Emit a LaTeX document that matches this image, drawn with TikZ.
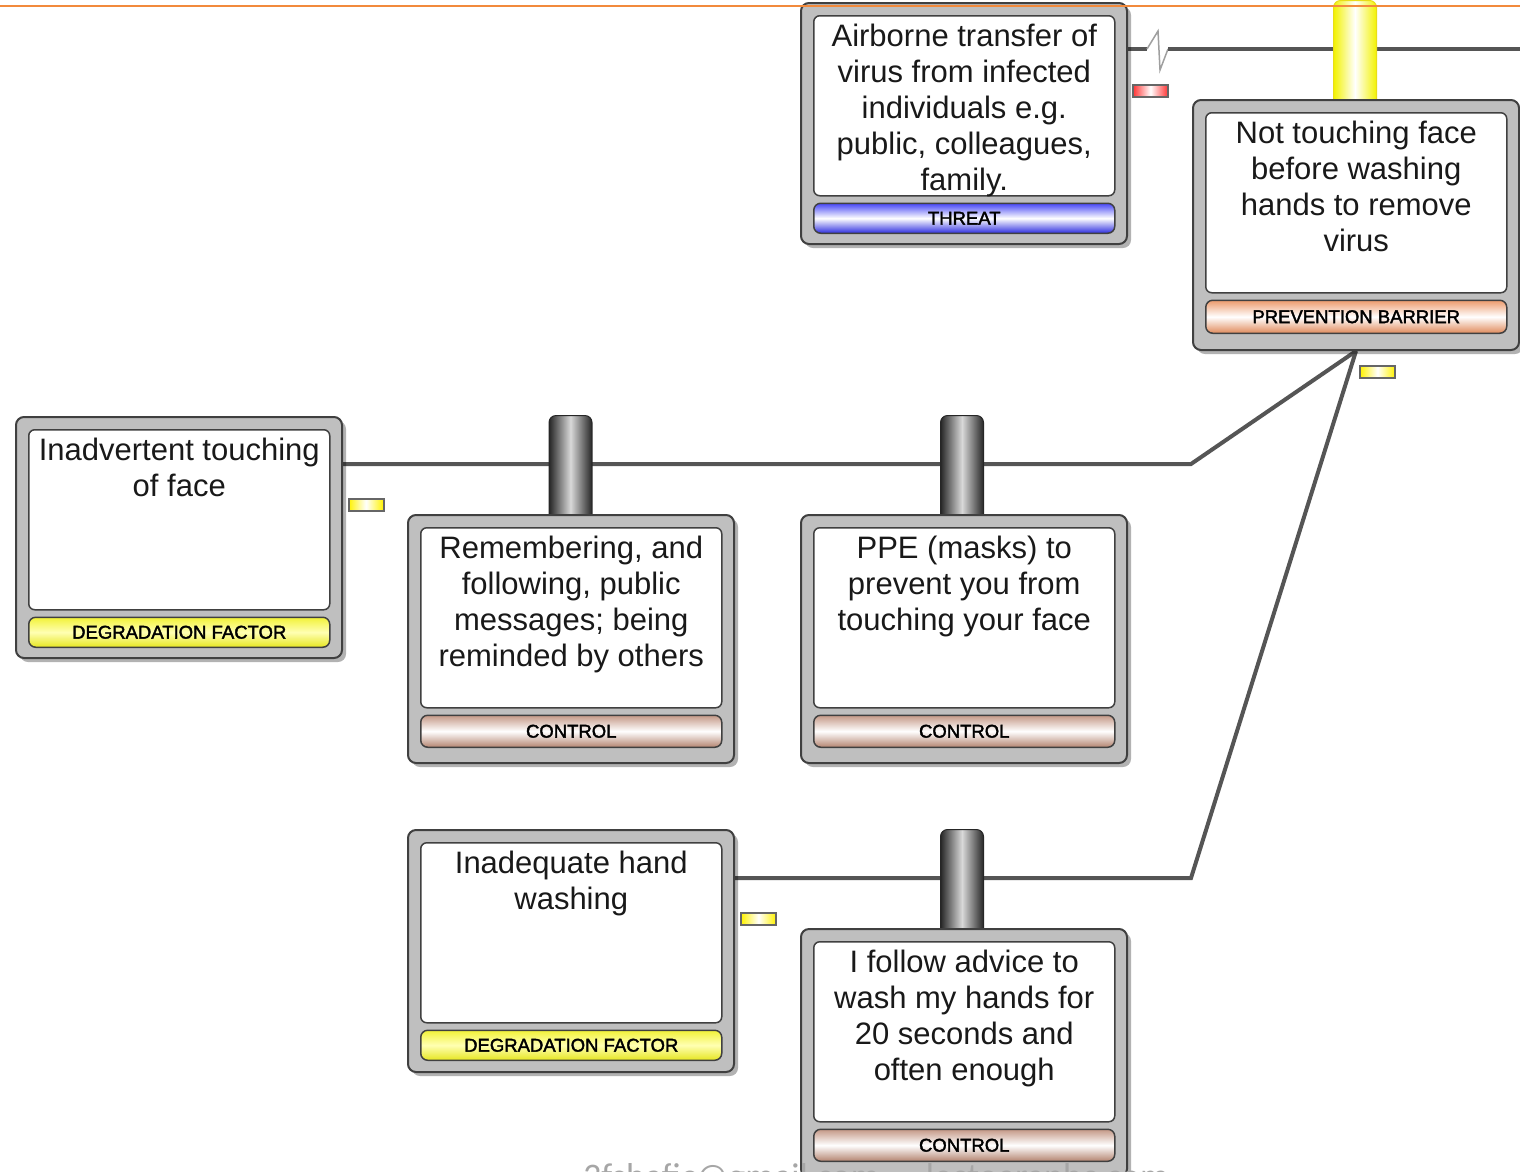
\documentclass[tikz,border=0pt]{standalone}
\usepackage{fontspec}
\setmainfont{Liberation Sans}
\newfontfamily\lblfont[FakeBold=2]{Liberation Sans}
\newfontfamily\wmfont{Carlito}
\usetikzlibrary{shadows}
\pgfdeclarelayer{back}
\pgfdeclarelayer{bg}
\pgfsetlayers{back,bg,main}
\definecolor{boxgray}{HTML}{BFBFBF}
\definecolor{edgegray}{HTML}{404040}
\definecolor{conncol}{HTML}{555555}
\definecolor{threatblue}{HTML}{4646F5}
\definecolor{threatblue2}{HTML}{2E2EE0}
\definecolor{ctrlbrown}{HTML}{C49886}
\definecolor{ctrlbrown2}{HTML}{B48470}
\definecolor{pbpeach}{HTML}{EC9A6C}
\definecolor{pbpeach2}{HTML}{E08A5A}
\definecolor{dfyellow}{HTML}{F2F238}
\definecolor{dfyellow2}{HTML}{E6E620}
\definecolor{orangeline}{HTML}{F28A3C}
\tikzset{
  outerbox/.style={draw=edgegray, line width=2pt, fill=boxgray, rounded corners=8pt,
    minimum width=326pt, inner sep=0pt, anchor=north west,
    drop shadow={shadow xshift=4pt, shadow yshift=-4pt, opacity=0.3, fill=black}},
  innerbox/.style={draw=edgegray, line width=1.5pt, fill=white, rounded corners=6pt,
    minimum width=301pt, minimum height=180pt, inner sep=0pt, anchor=north west},
  barbox/.style={draw=edgegray, line width=1.5pt, rounded corners=7pt,
    minimum width=301pt, inner sep=0pt, anchor=north west},
  threatbar/.style={top color=threatblue, bottom color=threatblue2, middle color=white},
  ctrlbar/.style={top color=ctrlbrown, bottom color=ctrlbrown2, middle color=white},
  pbbar/.style={top color=pbpeach, bottom color=pbpeach2, middle color=white},
  dfbar/.style={top color=dfyellow, bottom color=dfyellow2, middle color=white!70!yellow},
  lbl/.style={font=\lblfont\fontsize{18.5}{20}\selectfont, inner sep=0pt, text=black},
  txt/.style={font=\fontsize{31}{36}\selectfont, align=center, inner sep=0pt, anchor=north, text=black!90},
  conn/.style={draw=conncol, line width=4pt, line join=miter},
  zig/.style={draw=gray!75, line width=1.5pt, line join=miter},
  cyl/.style={draw=black!85, line width=1pt, rounded corners=7pt, inner sep=0pt, anchor=north,
    left color=black!85, right color=black!85, middle color=white!85!black},
  ycyl/.style={draw=yellow!90!black, line width=1pt, rounded corners=7pt, inner sep=0pt, anchor=north,
    left color=yellow!95!black, right color=yellow!95!black, middle color=white},
  marker/.style={draw=gray!80!black, line width=2pt, inner sep=0pt, minimum width=35pt, minimum height=12pt},
  ymarker/.style={marker, left color=yellow!90!orange, right color=yellow!90!orange, middle color=white},
  rmarker/.style={marker, left color=red!80, right color=red!80, middle color=white}
}
\newcommand\bowbox[8]{%
  \node[outerbox, minimum height=#4] (#1) at (#2,#3) {};
  \node[innerbox] (#1-in) at ([xshift=13pt,yshift=-13pt]#1.north west) {};
  \node[barbox, #6, minimum height=#5] (#1-bar) at ([yshift=-6pt]#1-in.south west) {};
  \node[lbl] (#1-lbl) at (#1-bar.center) {#7};
  \node[txt] (#1-txt) at ([yshift=-9pt]#1-in.north) {#8};
}
\begin{document}
\begin{tikzpicture}[x=1pt,y=-1pt]
\useasboundingbox (0,0) rectangle (1520,1171);
\clip (0,0) rectangle (1520,1171);
\begin{pgfonlayer}{back}
\fill[white] (0,0) rectangle (1520,1171);
\end{pgfonlayer}

% boxes
\bowbox{threat}{800}{2}{241pt}{30pt}{threatbar}{THREAT}{Airborne transfer of\\virus from infected\\individuals e.g.\\public, colleagues,\\family.}
\bowbox{pb}{1192}{99}{250pt}{33pt}{pbbar}{PREVENTION BARRIER}{Not touching face\\before washing\\hands to remove\\virus}
\bowbox{df1}{15}{416}{241pt}{30pt}{dfbar}{DEGRADATION FACTOR}{Inadvertent touching\\of face}
\bowbox{c1}{407}{514}{248pt}{32pt}{ctrlbar}{CONTROL}{Remembering, and\\following, public\\messages; being\\reminded by others}
\bowbox{c2}{800}{514}{248pt}{32pt}{ctrlbar}{CONTROL}{PPE (masks) to\\prevent you from\\touching your face}
\bowbox{df2}{407}{829}{242pt}{30pt}{dfbar}{DEGRADATION FACTOR}{Inadequate hand\\washing}
\bowbox{c3}{800}{928}{248pt}{32pt}{ctrlbar}{CONTROL}{I follow advice to\\wash my hands for\\20 seconds and\\often enough}

% connectors and barriers behind the boxes
\begin{pgfonlayer}{bg}
\coordinate (tz) at (1147,49);
\coordinate (tz2) at (1168,49);
\coordinate (tr) at (1520,49);
\coordinate (j1) at (1191,464);
\coordinate (j2) at (1191,878);
\draw[conn] (threat.east |- tz) -- (tz);
\draw[zig] (tz) -- ++(11,-18) -- ++(2,39) -- (tz2);
\draw[conn] (tz2) -- (tr);
\draw[conn] (df1.east |- j1) -- (j1) -- (pb.south);
\draw[conn] (df2.east |- j2) -- (j2) -- (pb.south);
\node[cyl, minimum width=43pt, minimum height=112pt] (cy1) at (570.5,415) {};
\node[cyl, minimum width=43pt, minimum height=112pt] (cy2) at (962,415) {};
\node[cyl, minimum width=43pt, minimum height=112pt] (cy3) at (962,829) {};
\node[ycyl, minimum width=43pt, minimum height=112pt] (ycy) at (1355,0) {};
\end{pgfonlayer}

% markers
\node[rmarker] (m0) at (1150.5,91) {};
\node[ymarker] (m1) at (366,505) {};
\node[ymarker] (m2) at (758.5,919) {};
\node[ymarker] (m3) at (1377.5,372) {};

% watermark text (cut off at the bottom, as in the original)
\node[anchor=base west, inner sep=0pt, text=black!35, font=\wmfont\fontsize{36}{36}\selectfont] (wm) at (583,1188) {3fshafic@gmail.com \,–\, lectoaraphc.com};

% orange rule at top
\coordinate (ol) at (0,6);
\coordinate (or) at (1520,6);
\draw[orangeline, line width=1.2pt] (ol) -- (or);
\end{tikzpicture}
\end{document}
